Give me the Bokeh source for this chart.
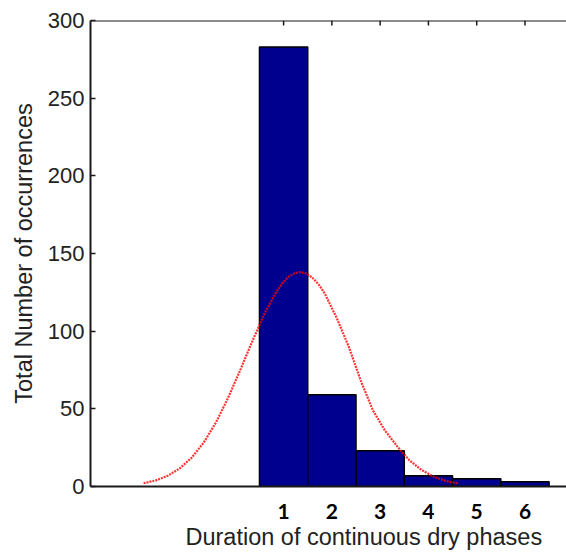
from bokeh.plotting import figure
from bokeh.models import Range1d, FixedTicker, Span, Title
from bokeh.embed import file_html
from bokeh.resources import INLINE

# Histogram data (duration classes and total occurrences)
durations = [1, 2, 3, 4, 5, 6]
counts = [283, 59, 23, 7, 5, 3]

# Fitted normal curve
fit_x = [-1.9, -1.65, -1.4, -1.15, -0.9, -0.65, -0.4, -0.15, 0.1, 0.35, 0.6, 0.85, 0.975,
         1.1, 1.22, 1.34, 1.47, 1.6, 1.725, 1.85, 2.1, 2.35, 2.6, 2.85, 3.1, 3.35, 3.6,
         3.85, 4.1, 4.35, 4.6]
fit_y = [2.1, 3.9, 6.9, 11.7, 18.7, 28.5, 41.3, 57.0, 74.8, 93.4, 111.0, 125.4, 130.9,
         134.9, 137.2, 138.0, 137.1, 134.3, 130.1, 124.4, 108.5, 90.0, 68.0, 49.0, 36.0,
         26.0, 17.0, 10.8, 6.4, 3.6, 2.0]

x_ticks = [1, 2, 3, 4, 5, 6]
y_ticks = [0, 50, 100, 150, 200, 250, 300]

AXIS_COLOR = "#1a1a1a"
TEXT_COLOR = "#222222"

p = figure(width=566, height=555, output_backend="svg", toolbar_location=None,
           x_range=Range1d(-3, 6.86), y_range=Range1d(0, 300),
           min_border_left=90, min_border_right=0, min_border_top=20, min_border_bottom=69)
p.outline_line_color = None
p.grid.visible = False
p.background_fill_color = "white"
p.border_fill_color = "white"

p.vbar(x=durations, top=counts, width=1, bottom=0,
       fill_color="#00008f", line_color="black", line_width=1.5)
p.line(fit_x, fit_y, line_color="#ff0000", line_width=2.2, line_dash="2 1", line_alpha=0.8)

# Top box edge with inward ticks at the duration classes
p.add_layout(Span(location=300, dimension="width", line_color=AXIS_COLOR, line_width=2))
p.segment(x0=x_ticks, y0=[300] * len(x_ticks), x1=x_ticks, y1=[296.8] * len(x_ticks),
          line_color=AXIS_COLOR, line_width=1.5)

# Left axis
ya = p.yaxis[0]
ya.ticker = FixedTicker(ticks=y_ticks)
ya.major_tick_in = 5
ya.major_tick_out = 0
ya.minor_tick_in = 0
ya.minor_tick_out = 0
ya.axis_line_width = 2
ya.axis_line_color = AXIS_COLOR
ya.major_tick_line_color = AXIS_COLOR
ya.major_tick_line_width = 1.5
ya.major_label_text_font = "Liberation Sans"
ya.major_label_text_font_size = "22px"
ya.major_label_text_color = TEXT_COLOR
ya.major_label_standoff = 6
ya.axis_label = "Total Number of occurrences"
ya.axis_label_text_font = "Liberation Sans"
ya.axis_label_text_font_size = "23.5px"
ya.axis_label_text_font_style = "normal"
ya.axis_label_text_color = TEXT_COLOR
ya.axis_label_standoff = 8

# Bottom axis
xa = p.xaxis[0]
xa.ticker = FixedTicker(ticks=x_ticks)
xa.major_tick_in = 0
xa.major_tick_out = 0
xa.minor_tick_in = 0
xa.minor_tick_out = 0
xa.axis_line_width = 2
xa.axis_line_color = AXIS_COLOR
xa.major_label_text_font = "Lato"
xa.major_label_text_font_style = "bold"
xa.major_label_text_font_size = "21px"
xa.major_label_text_color = "black"
xa.major_label_standoff = 17

# X axis title (placed off-centre as in the reference)
p.add_layout(Title(text="Duration of continuous dry phases", align="left", offset=95,
                   standoff=0, text_font="Liberation Sans", text_font_size="23.5px",
                   text_font_style="normal", text_color=TEXT_COLOR), "below")

open("out.html", "w").write(file_html(p, INLINE))
